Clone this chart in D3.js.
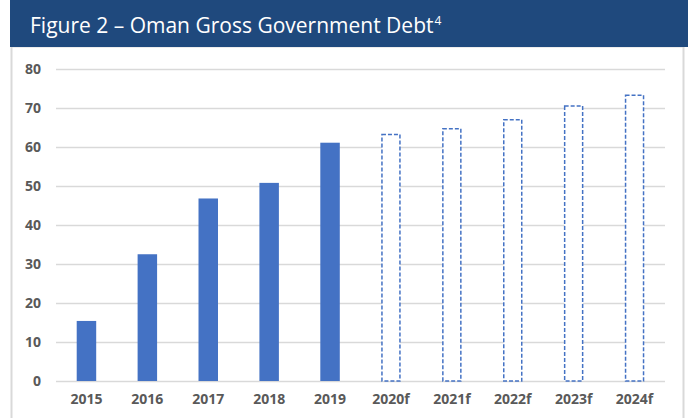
<!DOCTYPE html>
<html>
<head>
<meta charset="utf-8">
<script src="https://cdn.jsdelivr.net/npm/d3@7"></script>
<style>
  body { margin: 0; background: #fff; }
  svg { display: block; }
</style>
</head>
<body>
<svg id="chart" width="688" height="418"></svg>
<script>
"use strict";

var years = ["2015", "2016", "2017", "2018", "2019", "2020f", "2021f", "2022f", "2023f", "2024f"];
var debt = [15.4, 32.5, 46.8, 50.8, 61.1, 63.2, 64.7, 67.0, 70.5, 73.3];
var forecast = [false, false, false, false, false, true, true, true, true, true];
var yTicks = [0, 10, 20, 30, 40, 50, 60, 70, 80];
var title = "Figure 2 \u2013 Oman Gross Government Debt";

var svg = d3.select("#chart");
var margin = {top: 69, right: 23, bottom: 37, left: 56};
var width = 688 - margin.left - margin.right;
var height = 418 - margin.top - margin.bottom;

// frame + title bar
svg.append("rect")
  .attr("x", 11.5).attr("y", 46.5)
  .attr("width", 672).attr("height", 380)
  .attr("fill", "none")
  .attr("stroke", "#d9d9d9")
  .attr("stroke-width", 2);

svg.append("rect")
  .attr("x", 10).attr("y", 0)
  .attr("width", 678).attr("height", 47)
  .attr("fill", "#1f497d");

var t = svg.append("text")
  .attr("x", 30).attr("y", 33)
  .attr("fill", "#fff")
  .style("font-family", "'Open Sans', sans-serif")
  .style("font-size", "21px")
  .text(title);
t.append("tspan")
  .attr("dy", -8)
  .attr("dx", 1)
  .style("font-size", "12px")
  .text("4");

var g = svg.append("g")
  .attr("transform", "translate(" + margin.left + "," + margin.top + ")");

var x = d3.scaleBand()
  .domain(years)
  .range([0, width])
  .paddingInner(0.68)
  .paddingOuter(0.34);

var y = d3.scaleLinear()
  .domain([0, 80])
  .range([height, 0]);

// gridlines
g.selectAll("line.grid")
  .data(yTicks)
  .enter()
  .append("line")
  .attr("class", "grid")
  .attr("x1", 0)
  .attr("x2", width)
  .attr("y1", function(d) { return Math.round(y(d)) + 0.5; })
  .attr("y2", function(d) { return Math.round(y(d)) + 0.5; })
  .attr("stroke", "#d9d9d9")
  .attr("stroke-width", 1.5);

var yAxis = g.append("g")
  .call(d3.axisLeft(y).tickValues(yTicks).tickSize(0).tickPadding(15));
yAxis.select(".domain").remove();

var xAxis = g.append("g")
  .attr("transform", "translate(0," + height + ")")
  .call(d3.axisBottom(x).tickSize(0).tickPadding(13));
xAxis.select(".domain").remove();

svg.selectAll(".tick text")
  .attr("fill", "#595959")
  .style("font-family", "'Open Sans', sans-serif")
  .style("font-weight", "bold")
  .style("font-size", "14px");

var bars = years.map(function(yr, i) {
  return {year: yr, value: debt[i], forecast: forecast[i]};
});

g.selectAll("rect.bar")
  .data(bars)
  .enter()
  .append("rect")
  .attr("class", "bar")
  .attr("x", function(d) { return d.forecast ? x(d.year) + 0.75 : x(d.year); })
  .attr("y", function(d) { return y(d.value); })
  .attr("width", function(d) { return d.forecast ? x.bandwidth() - 1.5 : x.bandwidth(); })
  .attr("height", function(d) { return height - y(d.value); })
  .attr("fill", function(d) { return d.forecast ? "#fff" : "#4472c4"; })
  .attr("stroke", function(d) { return d.forecast ? "#4472c4" : "none"; })
  .attr("stroke-width", 1.5)
  .attr("stroke-dasharray", function(d) { return d.forecast ? "4,2" : null; });
</script>
</body>
</html>
